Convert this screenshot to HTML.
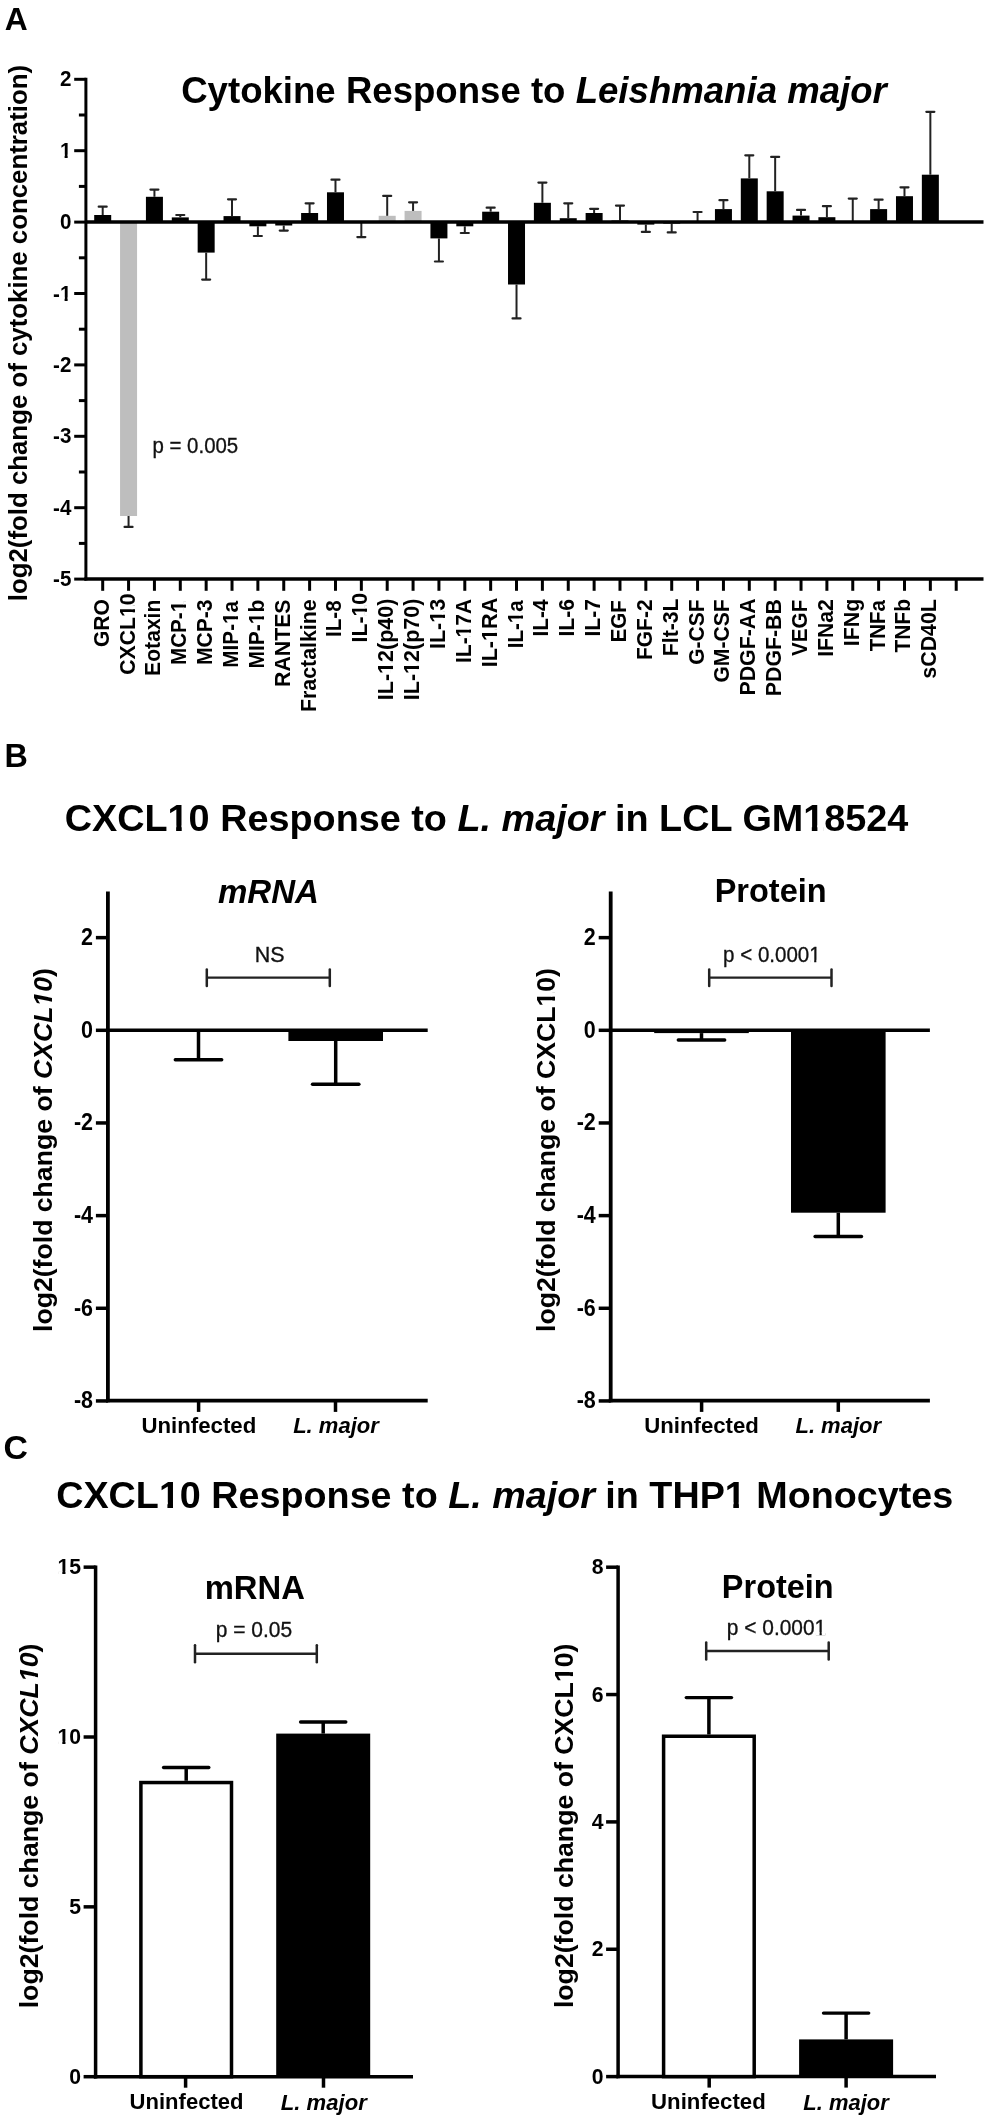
<!DOCTYPE html>
<html><head><meta charset="utf-8"><title>Figure</title>
<style>
html,body{margin:0;padding:0;background:#fff;}
body{width:990px;height:2120px;overflow:hidden;}
svg{display:block;font-family:"Liberation Sans", sans-serif;filter:blur(0.45px);}
</style></head><body>
<svg width="990" height="2120" viewBox="0 0 990 2120">
<rect x="0" y="0" width="990" height="2120" fill="#fff"/>
<text transform="translate(4.66 29.90) scale(0.7944 0.7944)" font-size="40" font-weight="bold" font-style="normal" fill="#000">A</text>
<text transform="translate(4.48 767.10) scale(0.8083 0.8083)" font-size="40" font-weight="bold" font-style="normal" fill="#000">B</text>
<text transform="translate(3.51 1459.10) scale(0.8462 0.8462)" font-size="40" font-weight="bold" font-style="normal" fill="#000">C</text>
<text transform="translate(181.17 102.90) scale(0.9152 0.9152)" font-size="40" font-weight="bold" font-style="normal" fill="#000">Cytokine Response to <tspan font-style="italic">Leishmania major</tspan></text>
<text transform="translate(64.71 830.80) scale(0.9451 0.9451)" font-size="40" font-weight="bold" font-style="normal" fill="#000">CXCL10 Response to <tspan font-style="italic">L. major</tspan> in LCL GM18524</text>
<text transform="translate(56.21 1507.60) scale(0.9430 0.9430)" font-size="40" font-weight="bold" font-style="normal" fill="#000">CXCL10 Response to <tspan font-style="italic">L. major</tspan> in THP1 Monocytes</text>
<text transform="translate(26.60 601.24) rotate(-90) scale(0.6455)" font-size="40" font-weight="bold" font-style="normal" fill="#000">log2(fold change of cytokine concentration)</text>
<text transform="translate(52.40 1332.00) rotate(-90) scale(0.6659)" font-size="40" font-weight="bold" font-style="normal" fill="#000">log2(fold change of <tspan font-style="italic">CXCL10</tspan>)</text>
<text transform="translate(555.20 1332.00) rotate(-90) scale(0.6659)" font-size="40" font-weight="bold" font-style="normal" fill="#000">log2(fold change of CXCL10)</text>
<text transform="translate(38.00 2008.30) rotate(-90) scale(0.6673)" font-size="40" font-weight="bold" font-style="normal" fill="#000">log2(fold change of <tspan font-style="italic">CXCL10</tspan>)</text>
<text transform="translate(573.20 2008.10) rotate(-90) scale(0.6670)" font-size="40" font-weight="bold" font-style="normal" fill="#000">log2(fold change of CXCL10)</text>
<text transform="translate(217.97 902.80) scale(0.8263 0.8263)" font-size="40" font-weight="bold" font-style="italic" fill="#000">mRNA</text>
<text transform="translate(714.66 902.40) scale(0.8129 0.8129)" font-size="40" font-weight="bold" font-style="normal" fill="#000">Protein</text>
<text transform="translate(204.64 1598.50) scale(0.8203 0.8203)" font-size="40" font-weight="bold" font-style="normal" fill="#000">mRNA</text>
<text transform="translate(721.87 1598.20) scale(0.8114 0.8114)" font-size="40" font-weight="bold" font-style="normal" fill="#000">Protein</text>
<text transform="translate(141.49 1433.20) scale(0.5554 0.5554)" font-size="40" font-weight="bold" font-style="normal" fill="#000">Uninfected</text>
<text transform="translate(293.15 1433.40) scale(0.5506 0.5506)" font-size="40" font-weight="bold" font-style="italic" fill="#000">L. major</text>
<text transform="translate(644.29 1432.90) scale(0.5545 0.5545)" font-size="40" font-weight="bold" font-style="normal" fill="#000">Uninfected</text>
<text transform="translate(795.45 1433.40) scale(0.5500 0.5500)" font-size="40" font-weight="bold" font-style="italic" fill="#000">L. major</text>
<text transform="translate(129.60 2109.20) scale(0.5510 0.5510)" font-size="40" font-weight="bold" font-style="normal" fill="#000">Uninfected</text>
<text transform="translate(280.85 2109.80) scale(0.5526 0.5526)" font-size="40" font-weight="bold" font-style="italic" fill="#000">L. major</text>
<text transform="translate(651.09 2109.20) scale(0.5550 0.5550)" font-size="40" font-weight="bold" font-style="normal" fill="#000">Uninfected</text>
<text transform="translate(803.35 2109.60) scale(0.5487 0.5487)" font-size="40" font-weight="bold" font-style="italic" fill="#000">L. major</text>
<text transform="translate(152.47 453.40) scale(0.5110 0.5468)" font-size="40" font-weight="normal" font-style="normal" fill="#111" stroke="#111" stroke-width="0.6">p = 0.005</text>
<text transform="translate(254.69 962.00) scale(0.5373 0.5373)" font-size="40" font-weight="normal" font-style="normal" fill="#111" stroke="#111" stroke-width="0.6">NS</text>
<text transform="translate(723.06 962.20) scale(0.5135 0.5495)" font-size="40" font-weight="normal" font-style="normal" fill="#111" stroke="#111" stroke-width="0.6">p &lt; 0.0001</text>
<text transform="translate(215.73 1636.70) scale(0.5241 0.5608)" font-size="40" font-weight="normal" font-style="normal" fill="#111" stroke="#111" stroke-width="0.6">p = 0.05</text>
<text transform="translate(726.83 1634.60) scale(0.5227 0.5593)" font-size="40" font-weight="normal" font-style="normal" fill="#111" stroke="#111" stroke-width="0.6">p &lt; 0.0001</text>
<line x1="85.90" y1="77.80" x2="85.90" y2="580.60" stroke="#000" stroke-width="3"/>
<line x1="74.20" y1="79.30" x2="85.90" y2="79.30" stroke="#000" stroke-width="3"/>
<line x1="74.20" y1="150.70" x2="85.90" y2="150.70" stroke="#000" stroke-width="3"/>
<line x1="74.20" y1="222.10" x2="85.90" y2="222.10" stroke="#000" stroke-width="3"/>
<line x1="74.20" y1="293.50" x2="85.90" y2="293.50" stroke="#000" stroke-width="3"/>
<line x1="74.20" y1="364.90" x2="85.90" y2="364.90" stroke="#000" stroke-width="3"/>
<line x1="74.20" y1="436.30" x2="85.90" y2="436.30" stroke="#000" stroke-width="3"/>
<line x1="74.20" y1="507.70" x2="85.90" y2="507.70" stroke="#000" stroke-width="3"/>
<line x1="74.20" y1="579.10" x2="85.90" y2="579.10" stroke="#000" stroke-width="3"/>
<line x1="78.90" y1="115.00" x2="85.90" y2="115.00" stroke="#000" stroke-width="3"/>
<line x1="78.90" y1="186.40" x2="85.90" y2="186.40" stroke="#000" stroke-width="3"/>
<line x1="78.90" y1="257.80" x2="85.90" y2="257.80" stroke="#000" stroke-width="3"/>
<line x1="78.90" y1="329.20" x2="85.90" y2="329.20" stroke="#000" stroke-width="3"/>
<line x1="78.90" y1="400.60" x2="85.90" y2="400.60" stroke="#000" stroke-width="3"/>
<line x1="78.90" y1="472.00" x2="85.90" y2="472.00" stroke="#000" stroke-width="3"/>
<line x1="78.90" y1="543.40" x2="85.90" y2="543.40" stroke="#000" stroke-width="3"/>
<text transform="translate(71.40 86.39) scale(1 1.08)" font-size="20.6" font-weight="bold" text-anchor="end">2</text>
<text transform="translate(71.40 157.79) scale(1 1.08)" font-size="20.6" font-weight="bold" text-anchor="end">1</text>
<text transform="translate(71.40 229.19) scale(1 1.08)" font-size="20.6" font-weight="bold" text-anchor="end">0</text>
<text transform="translate(71.40 300.59) scale(1 1.08)" font-size="20.6" font-weight="bold" text-anchor="end">-1</text>
<text transform="translate(71.40 371.99) scale(1 1.08)" font-size="20.6" font-weight="bold" text-anchor="end">-2</text>
<text transform="translate(71.40 443.39) scale(1 1.08)" font-size="20.6" font-weight="bold" text-anchor="end">-3</text>
<text transform="translate(71.40 514.79) scale(1 1.08)" font-size="20.6" font-weight="bold" text-anchor="end">-4</text>
<text transform="translate(71.40 586.19) scale(1 1.08)" font-size="20.6" font-weight="bold" text-anchor="end">-5</text>
<line x1="84.40" y1="579.10" x2="983.50" y2="579.10" stroke="#000" stroke-width="3.5"/>
<line x1="102.70" y1="579.10" x2="102.70" y2="590.80" stroke="#000" stroke-width="3"/>
<line x1="128.56" y1="579.10" x2="128.56" y2="590.80" stroke="#000" stroke-width="3"/>
<line x1="154.43" y1="579.10" x2="154.43" y2="590.80" stroke="#000" stroke-width="3"/>
<line x1="180.29" y1="579.10" x2="180.29" y2="590.80" stroke="#000" stroke-width="3"/>
<line x1="206.16" y1="579.10" x2="206.16" y2="590.80" stroke="#000" stroke-width="3"/>
<line x1="232.02" y1="579.10" x2="232.02" y2="590.80" stroke="#000" stroke-width="3"/>
<line x1="257.88" y1="579.10" x2="257.88" y2="590.80" stroke="#000" stroke-width="3"/>
<line x1="283.75" y1="579.10" x2="283.75" y2="590.80" stroke="#000" stroke-width="3"/>
<line x1="309.61" y1="579.10" x2="309.61" y2="590.80" stroke="#000" stroke-width="3"/>
<line x1="335.48" y1="579.10" x2="335.48" y2="590.80" stroke="#000" stroke-width="3"/>
<line x1="361.34" y1="579.10" x2="361.34" y2="590.80" stroke="#000" stroke-width="3"/>
<line x1="387.20" y1="579.10" x2="387.20" y2="590.80" stroke="#000" stroke-width="3"/>
<line x1="413.07" y1="579.10" x2="413.07" y2="590.80" stroke="#000" stroke-width="3"/>
<line x1="438.93" y1="579.10" x2="438.93" y2="590.80" stroke="#000" stroke-width="3"/>
<line x1="464.80" y1="579.10" x2="464.80" y2="590.80" stroke="#000" stroke-width="3"/>
<line x1="490.66" y1="579.10" x2="490.66" y2="590.80" stroke="#000" stroke-width="3"/>
<line x1="516.52" y1="579.10" x2="516.52" y2="590.80" stroke="#000" stroke-width="3"/>
<line x1="542.39" y1="579.10" x2="542.39" y2="590.80" stroke="#000" stroke-width="3"/>
<line x1="568.25" y1="579.10" x2="568.25" y2="590.80" stroke="#000" stroke-width="3"/>
<line x1="594.12" y1="579.10" x2="594.12" y2="590.80" stroke="#000" stroke-width="3"/>
<line x1="619.98" y1="579.10" x2="619.98" y2="590.80" stroke="#000" stroke-width="3"/>
<line x1="645.84" y1="579.10" x2="645.84" y2="590.80" stroke="#000" stroke-width="3"/>
<line x1="671.71" y1="579.10" x2="671.71" y2="590.80" stroke="#000" stroke-width="3"/>
<line x1="697.57" y1="579.10" x2="697.57" y2="590.80" stroke="#000" stroke-width="3"/>
<line x1="723.44" y1="579.10" x2="723.44" y2="590.80" stroke="#000" stroke-width="3"/>
<line x1="749.30" y1="579.10" x2="749.30" y2="590.80" stroke="#000" stroke-width="3"/>
<line x1="775.16" y1="579.10" x2="775.16" y2="590.80" stroke="#000" stroke-width="3"/>
<line x1="801.03" y1="579.10" x2="801.03" y2="590.80" stroke="#000" stroke-width="3"/>
<line x1="826.89" y1="579.10" x2="826.89" y2="590.80" stroke="#000" stroke-width="3"/>
<line x1="852.76" y1="579.10" x2="852.76" y2="590.80" stroke="#000" stroke-width="3"/>
<line x1="878.62" y1="579.10" x2="878.62" y2="590.80" stroke="#000" stroke-width="3"/>
<line x1="904.48" y1="579.10" x2="904.48" y2="590.80" stroke="#000" stroke-width="3"/>
<line x1="930.35" y1="579.10" x2="930.35" y2="590.80" stroke="#000" stroke-width="3"/>
<line x1="956.21" y1="579.10" x2="956.21" y2="590.80" stroke="#000" stroke-width="3"/>
<text transform="translate(108.70 647.05) rotate(-90) scale(0.5273 0.5325)" font-size="40" font-weight="bold">GRO</text>
<text transform="translate(134.56 674.66) rotate(-90) scale(0.5287 0.5325)" font-size="40" font-weight="bold">CXCL10</text>
<text transform="translate(160.43 675.88) rotate(-90) scale(0.5281 0.5325)" font-size="40" font-weight="bold">Eotaxin</text>
<text transform="translate(186.29 665.05) rotate(-90) scale(0.5167 0.5325)" font-size="40" font-weight="bold">MCP-1</text>
<text transform="translate(212.16 665.08) rotate(-90) scale(0.5275 0.5325)" font-size="40" font-weight="bold">MCP-3</text>
<text transform="translate(238.02 667.65) rotate(-90) scale(0.5175 0.5325)" font-size="40" font-weight="bold">MIP-1a</text>
<text transform="translate(263.88 668.58) rotate(-90) scale(0.5260 0.5325)" font-size="40" font-weight="bold">MIP-1b</text>
<text transform="translate(289.75 687.00) rotate(-90) scale(0.5325 0.5325)" font-size="40" font-weight="bold">RANTES</text>
<text transform="translate(315.61 712.00) rotate(-90) scale(0.5338 0.5325)" font-size="40" font-weight="bold">Fractalkine</text>
<text transform="translate(341.48 637.05) rotate(-90) scale(0.5164 0.5325)" font-size="40" font-weight="bold">IL-8</text>
<text transform="translate(367.34 642.39) rotate(-90) scale(0.5292 0.5325)" font-size="40" font-weight="bold">IL-10</text>
<text transform="translate(393.20 700.21) rotate(-90) scale(0.5380 0.5325)" font-size="40" font-weight="bold">IL-12(p40)</text>
<text transform="translate(419.07 700.21) rotate(-90) scale(0.5380 0.5325)" font-size="40" font-weight="bold">IL-12(p70)</text>
<text transform="translate(444.93 649.01) rotate(-90) scale(0.5371 0.5325)" font-size="40" font-weight="bold">IL-13</text>
<text transform="translate(470.80 662.97) rotate(-90) scale(0.5237 0.5325)" font-size="40" font-weight="bold">IL-17A</text>
<text transform="translate(496.66 667.32) rotate(-90) scale(0.5400 0.5325)" font-size="40" font-weight="bold">IL-1RA</text>
<text transform="translate(522.52 648.23) rotate(-90) scale(0.5125 0.5325)" font-size="40" font-weight="bold">IL-1a</text>
<text transform="translate(548.39 636.46) rotate(-90) scale(0.5191 0.5325)" font-size="40" font-weight="bold">IL-4</text>
<text transform="translate(574.25 636.48) rotate(-90) scale(0.5269 0.5325)" font-size="40" font-weight="bold">IL-6</text>
<text transform="translate(600.12 636.48) rotate(-90) scale(0.5258 0.5325)" font-size="40" font-weight="bold">IL-7</text>
<text transform="translate(625.98 642.33) rotate(-90) scale(0.5125 0.5325)" font-size="40" font-weight="bold">EGF</text>
<text transform="translate(651.84 660.08) rotate(-90) scale(0.5252 0.5325)" font-size="40" font-weight="bold">FGF-2</text>
<text transform="translate(677.71 656.19) rotate(-90) scale(0.5305 0.5325)" font-size="40" font-weight="bold">Flt-3L</text>
<text transform="translate(703.57 664.85) rotate(-90) scale(0.5256 0.5325)" font-size="40" font-weight="bold">G-CSF</text>
<text transform="translate(729.44 682.56) rotate(-90) scale(0.5279 0.5325)" font-size="40" font-weight="bold">GM-CSF</text>
<text transform="translate(755.30 695.60) rotate(-90) scale(0.5343 0.5325)" font-size="40" font-weight="bold">PDGF-AA</text>
<text transform="translate(781.16 696.20) rotate(-90) scale(0.5333 0.5325)" font-size="40" font-weight="bold">PDGF-BB</text>
<text transform="translate(807.03 655.90) rotate(-90) scale(0.5157 0.5325)" font-size="40" font-weight="bold">VEGF</text>
<text transform="translate(832.89 656.79) rotate(-90) scale(0.5288 0.5325)" font-size="40" font-weight="bold">IFNa2</text>
<text transform="translate(858.76 646.31) rotate(-90) scale(0.5361 0.5325)" font-size="40" font-weight="bold">IFNg</text>
<text transform="translate(884.62 651.30) rotate(-90) scale(0.5125 0.5325)" font-size="40" font-weight="bold">TNFa</text>
<text transform="translate(910.48 652.60) rotate(-90) scale(0.5248 0.5325)" font-size="40" font-weight="bold">TNFb</text>
<text transform="translate(936.35 678.67) rotate(-90) scale(0.5342 0.5325)" font-size="40" font-weight="bold">sCD40L</text>
<rect x="94.20" y="215.00" width="17.00" height="7.10" fill="#000"/>
<line x1="102.70" y1="206.70" x2="102.70" y2="215.00" stroke="#222" stroke-width="2"/>
<line x1="98.70" y1="206.70" x2="106.70" y2="206.70" stroke="#222" stroke-width="2.2" stroke-linecap="round"/>
<rect x="120.06" y="222.10" width="17.00" height="293.90" fill="#bebebe"/>
<line x1="128.56" y1="516.00" x2="128.56" y2="526.90" stroke="#222" stroke-width="2"/>
<line x1="124.56" y1="526.90" x2="132.56" y2="526.90" stroke="#222" stroke-width="2.2" stroke-linecap="round"/>
<rect x="145.93" y="196.80" width="17.00" height="25.30" fill="#000"/>
<line x1="154.43" y1="189.60" x2="154.43" y2="196.80" stroke="#222" stroke-width="2"/>
<line x1="150.43" y1="189.60" x2="158.43" y2="189.60" stroke="#222" stroke-width="2.2" stroke-linecap="round"/>
<rect x="171.79" y="217.40" width="17.00" height="4.70" fill="#000"/>
<line x1="180.29" y1="215.00" x2="180.29" y2="217.40" stroke="#222" stroke-width="2"/>
<line x1="176.29" y1="215.00" x2="184.29" y2="215.00" stroke="#222" stroke-width="2.2" stroke-linecap="round"/>
<rect x="197.66" y="222.10" width="17.00" height="30.50" fill="#000"/>
<line x1="206.16" y1="252.60" x2="206.16" y2="279.60" stroke="#222" stroke-width="2"/>
<line x1="202.16" y1="279.60" x2="210.16" y2="279.60" stroke="#222" stroke-width="2.2" stroke-linecap="round"/>
<rect x="223.52" y="216.10" width="17.00" height="6.00" fill="#000"/>
<line x1="232.02" y1="199.30" x2="232.02" y2="216.10" stroke="#222" stroke-width="2"/>
<line x1="228.02" y1="199.30" x2="236.02" y2="199.30" stroke="#222" stroke-width="2.2" stroke-linecap="round"/>
<rect x="249.38" y="222.10" width="17.00" height="4.20" fill="#000"/>
<line x1="257.88" y1="226.30" x2="257.88" y2="236.00" stroke="#222" stroke-width="2"/>
<line x1="253.88" y1="236.00" x2="261.88" y2="236.00" stroke="#222" stroke-width="2.2" stroke-linecap="round"/>
<rect x="275.25" y="222.10" width="17.00" height="3.40" fill="#000"/>
<line x1="283.75" y1="225.50" x2="283.75" y2="230.60" stroke="#222" stroke-width="2"/>
<line x1="279.75" y1="230.60" x2="287.75" y2="230.60" stroke="#222" stroke-width="2.2" stroke-linecap="round"/>
<rect x="301.11" y="213.00" width="17.00" height="9.10" fill="#000"/>
<line x1="309.61" y1="203.30" x2="309.61" y2="213.00" stroke="#222" stroke-width="2"/>
<line x1="305.61" y1="203.30" x2="313.61" y2="203.30" stroke="#222" stroke-width="2.2" stroke-linecap="round"/>
<rect x="326.98" y="192.30" width="17.00" height="29.80" fill="#000"/>
<line x1="335.48" y1="179.70" x2="335.48" y2="192.30" stroke="#222" stroke-width="2"/>
<line x1="331.48" y1="179.70" x2="339.48" y2="179.70" stroke="#222" stroke-width="2.2" stroke-linecap="round"/>
<rect x="352.84" y="222.10" width="17.00" height="0.90" fill="#000"/>
<line x1="361.34" y1="223.00" x2="361.34" y2="237.10" stroke="#222" stroke-width="2"/>
<line x1="357.34" y1="237.10" x2="365.34" y2="237.10" stroke="#222" stroke-width="2.2" stroke-linecap="round"/>
<rect x="378.70" y="215.80" width="17.00" height="6.30" fill="#bebebe"/>
<line x1="387.20" y1="195.90" x2="387.20" y2="215.80" stroke="#222" stroke-width="2"/>
<line x1="383.20" y1="195.90" x2="391.20" y2="195.90" stroke="#222" stroke-width="2.2" stroke-linecap="round"/>
<rect x="404.57" y="210.90" width="17.00" height="11.20" fill="#bebebe"/>
<line x1="413.07" y1="202.30" x2="413.07" y2="210.90" stroke="#222" stroke-width="2"/>
<line x1="409.07" y1="202.30" x2="417.07" y2="202.30" stroke="#222" stroke-width="2.2" stroke-linecap="round"/>
<rect x="430.43" y="222.10" width="17.00" height="16.30" fill="#000"/>
<line x1="438.93" y1="238.40" x2="438.93" y2="261.50" stroke="#222" stroke-width="2"/>
<line x1="434.93" y1="261.50" x2="442.93" y2="261.50" stroke="#222" stroke-width="2.2" stroke-linecap="round"/>
<rect x="456.30" y="222.10" width="17.00" height="4.20" fill="#000"/>
<line x1="464.80" y1="226.30" x2="464.80" y2="233.00" stroke="#222" stroke-width="2"/>
<line x1="460.80" y1="233.00" x2="468.80" y2="233.00" stroke="#222" stroke-width="2.2" stroke-linecap="round"/>
<rect x="482.16" y="211.70" width="17.00" height="10.40" fill="#000"/>
<line x1="490.66" y1="207.70" x2="490.66" y2="211.70" stroke="#222" stroke-width="2"/>
<line x1="486.66" y1="207.70" x2="494.66" y2="207.70" stroke="#222" stroke-width="2.2" stroke-linecap="round"/>
<rect x="508.02" y="222.10" width="17.00" height="62.40" fill="#000"/>
<line x1="516.52" y1="284.50" x2="516.52" y2="318.40" stroke="#222" stroke-width="2"/>
<line x1="512.52" y1="318.40" x2="520.52" y2="318.40" stroke="#222" stroke-width="2.2" stroke-linecap="round"/>
<rect x="533.89" y="202.80" width="17.00" height="19.30" fill="#000"/>
<line x1="542.39" y1="182.60" x2="542.39" y2="202.80" stroke="#222" stroke-width="2"/>
<line x1="538.39" y1="182.60" x2="546.39" y2="182.60" stroke="#222" stroke-width="2.2" stroke-linecap="round"/>
<rect x="559.75" y="218.20" width="17.00" height="3.90" fill="#000"/>
<line x1="568.25" y1="203.30" x2="568.25" y2="218.20" stroke="#222" stroke-width="2"/>
<line x1="564.25" y1="203.30" x2="572.25" y2="203.30" stroke="#222" stroke-width="2.2" stroke-linecap="round"/>
<rect x="585.62" y="213.00" width="17.00" height="9.10" fill="#000"/>
<line x1="594.12" y1="208.80" x2="594.12" y2="213.00" stroke="#222" stroke-width="2"/>
<line x1="590.12" y1="208.80" x2="598.12" y2="208.80" stroke="#222" stroke-width="2.2" stroke-linecap="round"/>
<rect x="611.48" y="220.50" width="17.00" height="1.60" fill="#000"/>
<line x1="619.98" y1="205.60" x2="619.98" y2="220.50" stroke="#222" stroke-width="2"/>
<line x1="615.98" y1="205.60" x2="623.98" y2="205.60" stroke="#222" stroke-width="2.2" stroke-linecap="round"/>
<rect x="637.34" y="222.10" width="17.00" height="2.50" fill="#000"/>
<line x1="645.84" y1="224.60" x2="645.84" y2="231.90" stroke="#222" stroke-width="2"/>
<line x1="641.84" y1="231.90" x2="649.84" y2="231.90" stroke="#222" stroke-width="2.2" stroke-linecap="round"/>
<rect x="663.21" y="222.10" width="17.00" height="1.50" fill="#000"/>
<line x1="671.71" y1="223.60" x2="671.71" y2="232.40" stroke="#222" stroke-width="2"/>
<line x1="667.71" y1="232.40" x2="675.71" y2="232.40" stroke="#222" stroke-width="2.2" stroke-linecap="round"/>
<rect x="689.07" y="221.00" width="17.00" height="1.10" fill="#000"/>
<line x1="697.57" y1="212.00" x2="697.57" y2="221.00" stroke="#222" stroke-width="2"/>
<line x1="693.57" y1="212.00" x2="701.57" y2="212.00" stroke="#222" stroke-width="2.2" stroke-linecap="round"/>
<rect x="714.94" y="209.10" width="17.00" height="13.00" fill="#000"/>
<line x1="723.44" y1="200.20" x2="723.44" y2="209.10" stroke="#222" stroke-width="2"/>
<line x1="719.44" y1="200.20" x2="727.44" y2="200.20" stroke="#222" stroke-width="2.2" stroke-linecap="round"/>
<rect x="740.80" y="178.40" width="17.00" height="43.70" fill="#000"/>
<line x1="749.30" y1="155.30" x2="749.30" y2="178.40" stroke="#222" stroke-width="2"/>
<line x1="745.30" y1="155.30" x2="753.30" y2="155.30" stroke="#222" stroke-width="2.2" stroke-linecap="round"/>
<rect x="766.66" y="191.30" width="17.00" height="30.80" fill="#000"/>
<line x1="775.16" y1="156.90" x2="775.16" y2="191.30" stroke="#222" stroke-width="2"/>
<line x1="771.16" y1="156.90" x2="779.16" y2="156.90" stroke="#222" stroke-width="2.2" stroke-linecap="round"/>
<rect x="792.53" y="215.60" width="17.00" height="6.50" fill="#000"/>
<line x1="801.03" y1="209.90" x2="801.03" y2="215.60" stroke="#222" stroke-width="2"/>
<line x1="797.03" y1="209.90" x2="805.03" y2="209.90" stroke="#222" stroke-width="2.2" stroke-linecap="round"/>
<rect x="818.39" y="217.20" width="17.00" height="4.90" fill="#000"/>
<line x1="826.89" y1="206.20" x2="826.89" y2="217.20" stroke="#222" stroke-width="2"/>
<line x1="822.89" y1="206.20" x2="830.89" y2="206.20" stroke="#222" stroke-width="2.2" stroke-linecap="round"/>
<rect x="844.26" y="221.00" width="17.00" height="1.10" fill="#000"/>
<line x1="852.76" y1="198.60" x2="852.76" y2="221.00" stroke="#222" stroke-width="2"/>
<line x1="848.76" y1="198.60" x2="856.76" y2="198.60" stroke="#222" stroke-width="2.2" stroke-linecap="round"/>
<rect x="870.12" y="209.10" width="17.00" height="13.00" fill="#000"/>
<line x1="878.62" y1="199.70" x2="878.62" y2="209.10" stroke="#222" stroke-width="2"/>
<line x1="874.62" y1="199.70" x2="882.62" y2="199.70" stroke="#222" stroke-width="2.2" stroke-linecap="round"/>
<rect x="895.98" y="196.20" width="17.00" height="25.90" fill="#000"/>
<line x1="904.48" y1="187.30" x2="904.48" y2="196.20" stroke="#222" stroke-width="2"/>
<line x1="900.48" y1="187.30" x2="908.48" y2="187.30" stroke="#222" stroke-width="2.2" stroke-linecap="round"/>
<rect x="921.85" y="174.70" width="17.00" height="47.40" fill="#000"/>
<line x1="930.35" y1="111.80" x2="930.35" y2="174.70" stroke="#222" stroke-width="2"/>
<line x1="926.35" y1="111.80" x2="934.35" y2="111.80" stroke="#222" stroke-width="2.2" stroke-linecap="round"/>
<line x1="85.90" y1="222.10" x2="983.50" y2="222.10" stroke="#000" stroke-width="3.5"/>
<line x1="107.90" y1="891.50" x2="107.90" y2="1402.30" stroke="#000" stroke-width="3.8"/>
<line x1="95.90" y1="937.64" x2="107.90" y2="937.64" stroke="#000" stroke-width="3.5"/>
<text transform="translate(93.00 945.07) scale(1 1.08)" font-size="21.5" font-weight="bold" text-anchor="end">2</text>
<line x1="95.90" y1="1030.30" x2="107.90" y2="1030.30" stroke="#000" stroke-width="3.5"/>
<text transform="translate(93.00 1037.73) scale(1 1.08)" font-size="21.5" font-weight="bold" text-anchor="end">0</text>
<line x1="95.90" y1="1122.96" x2="107.90" y2="1122.96" stroke="#000" stroke-width="3.5"/>
<text transform="translate(93.00 1130.39) scale(1 1.08)" font-size="21.5" font-weight="bold" text-anchor="end">-2</text>
<line x1="95.90" y1="1215.62" x2="107.90" y2="1215.62" stroke="#000" stroke-width="3.5"/>
<text transform="translate(93.00 1223.05) scale(1 1.08)" font-size="21.5" font-weight="bold" text-anchor="end">-4</text>
<line x1="95.90" y1="1308.28" x2="107.90" y2="1308.28" stroke="#000" stroke-width="3.5"/>
<text transform="translate(93.00 1315.71) scale(1 1.08)" font-size="21.5" font-weight="bold" text-anchor="end">-6</text>
<line x1="95.90" y1="1400.94" x2="107.90" y2="1400.94" stroke="#000" stroke-width="3.5"/>
<text transform="translate(93.00 1408.37) scale(1 1.08)" font-size="21.5" font-weight="bold" text-anchor="end">-8</text>
<line x1="106.00" y1="1400.60" x2="427.70" y2="1400.60" stroke="#000" stroke-width="3.6"/>
<line x1="198.60" y1="1400.60" x2="198.60" y2="1411.90" stroke="#000" stroke-width="3.5"/>
<line x1="335.50" y1="1400.60" x2="335.50" y2="1411.90" stroke="#000" stroke-width="3.5"/>
<line x1="198.50" y1="1030.10" x2="198.50" y2="1059.80" stroke="#000" stroke-width="3.5"/>
<line x1="175.30" y1="1059.80" x2="221.70" y2="1059.80" stroke="#000" stroke-width="3.4" stroke-linecap="round"/>
<rect x="288.40" y="1030.30" width="94.60" height="10.70" fill="#000"/>
<line x1="335.70" y1="1041.00" x2="335.70" y2="1084.30" stroke="#000" stroke-width="3.5"/>
<line x1="312.50" y1="1084.30" x2="358.90" y2="1084.30" stroke="#000" stroke-width="3.4" stroke-linecap="round"/>
<line x1="107.90" y1="1030.30" x2="427.70" y2="1030.30" stroke="#000" stroke-width="3.5"/>
<line x1="206.80" y1="977.70" x2="329.80" y2="977.70" stroke="#222" stroke-width="2.2"/>
<line x1="206.80" y1="969.40" x2="206.80" y2="986.10" stroke="#222" stroke-width="2.5" stroke-linecap="round"/>
<line x1="329.80" y1="969.40" x2="329.80" y2="986.10" stroke="#222" stroke-width="2.5" stroke-linecap="round"/>
<line x1="610.70" y1="891.50" x2="610.70" y2="1402.30" stroke="#000" stroke-width="3.8"/>
<line x1="598.70" y1="937.64" x2="610.70" y2="937.64" stroke="#000" stroke-width="3.5"/>
<text transform="translate(595.80 945.07) scale(1 1.08)" font-size="21.5" font-weight="bold" text-anchor="end">2</text>
<line x1="598.70" y1="1030.30" x2="610.70" y2="1030.30" stroke="#000" stroke-width="3.5"/>
<text transform="translate(595.80 1037.73) scale(1 1.08)" font-size="21.5" font-weight="bold" text-anchor="end">0</text>
<line x1="598.70" y1="1122.96" x2="610.70" y2="1122.96" stroke="#000" stroke-width="3.5"/>
<text transform="translate(595.80 1130.39) scale(1 1.08)" font-size="21.5" font-weight="bold" text-anchor="end">-2</text>
<line x1="598.70" y1="1215.62" x2="610.70" y2="1215.62" stroke="#000" stroke-width="3.5"/>
<text transform="translate(595.80 1223.05) scale(1 1.08)" font-size="21.5" font-weight="bold" text-anchor="end">-4</text>
<line x1="598.70" y1="1308.28" x2="610.70" y2="1308.28" stroke="#000" stroke-width="3.5"/>
<text transform="translate(595.80 1315.71) scale(1 1.08)" font-size="21.5" font-weight="bold" text-anchor="end">-6</text>
<line x1="598.70" y1="1400.94" x2="610.70" y2="1400.94" stroke="#000" stroke-width="3.5"/>
<text transform="translate(595.80 1408.37) scale(1 1.08)" font-size="21.5" font-weight="bold" text-anchor="end">-8</text>
<line x1="608.80" y1="1400.60" x2="929.90" y2="1400.60" stroke="#000" stroke-width="3.6"/>
<line x1="701.60" y1="1400.60" x2="701.60" y2="1411.90" stroke="#000" stroke-width="3.5"/>
<line x1="838.30" y1="1400.60" x2="838.30" y2="1411.90" stroke="#000" stroke-width="3.5"/>
<rect x="654.20" y="1030.30" width="94.60" height="2.80" fill="#000"/>
<line x1="701.50" y1="1033.10" x2="701.50" y2="1040.00" stroke="#000" stroke-width="3.5"/>
<line x1="678.30" y1="1040.00" x2="724.70" y2="1040.00" stroke="#000" stroke-width="3.4" stroke-linecap="round"/>
<rect x="791.00" y="1030.30" width="94.60" height="182.40" fill="#000"/>
<line x1="838.30" y1="1212.70" x2="838.30" y2="1236.50" stroke="#000" stroke-width="3.5"/>
<line x1="815.10" y1="1236.50" x2="861.50" y2="1236.50" stroke="#000" stroke-width="3.4" stroke-linecap="round"/>
<line x1="610.70" y1="1030.30" x2="929.90" y2="1030.30" stroke="#000" stroke-width="3.5"/>
<line x1="709.20" y1="977.70" x2="831.50" y2="977.70" stroke="#222" stroke-width="2.2"/>
<line x1="709.20" y1="969.40" x2="709.20" y2="986.10" stroke="#222" stroke-width="2.5" stroke-linecap="round"/>
<line x1="831.50" y1="969.40" x2="831.50" y2="986.10" stroke="#222" stroke-width="2.5" stroke-linecap="round"/>
<line x1="95.60" y1="1565.40" x2="95.60" y2="2078.40" stroke="#000" stroke-width="3.5"/>
<line x1="83.60" y1="1567.15" x2="95.60" y2="1567.15" stroke="#000" stroke-width="3.5"/>
<text transform="translate(81.10 1574.39) scale(1 1.07)" font-size="21.2" font-weight="bold" text-anchor="end">15</text>
<line x1="83.60" y1="1737.00" x2="95.60" y2="1737.00" stroke="#000" stroke-width="3.5"/>
<text transform="translate(81.10 1744.24) scale(1 1.07)" font-size="21.2" font-weight="bold" text-anchor="end">10</text>
<line x1="83.60" y1="1906.85" x2="95.60" y2="1906.85" stroke="#000" stroke-width="3.5"/>
<text transform="translate(81.10 1914.09) scale(1 1.07)" font-size="21.2" font-weight="bold" text-anchor="end">5</text>
<line x1="83.60" y1="2076.70" x2="95.60" y2="2076.70" stroke="#000" stroke-width="3.5"/>
<text transform="translate(81.10 2083.94) scale(1 1.07)" font-size="21.2" font-weight="bold" text-anchor="end">0</text>
<line x1="93.90" y1="2076.70" x2="413.00" y2="2076.70" stroke="#000" stroke-width="3.5"/>
<line x1="185.60" y1="2076.70" x2="185.60" y2="2087.70" stroke="#000" stroke-width="3.5"/>
<line x1="323.50" y1="2076.70" x2="323.50" y2="2087.70" stroke="#000" stroke-width="3.5"/>
<rect x="140.90" y="1782.55" width="90.60" height="294.15" fill="#fff" stroke="#000" stroke-width="3.5"/>
<line x1="186.20" y1="1780.80" x2="186.20" y2="1767.50" stroke="#000" stroke-width="3.5"/>
<line x1="163.60" y1="1767.50" x2="208.80" y2="1767.50" stroke="#000" stroke-width="3.4" stroke-linecap="round"/>
<rect x="276.20" y="1733.60" width="94.00" height="343.10" fill="#000"/>
<line x1="323.20" y1="1733.60" x2="323.20" y2="1722.00" stroke="#000" stroke-width="3.5"/>
<line x1="300.60" y1="1722.00" x2="345.80" y2="1722.00" stroke="#000" stroke-width="3.4" stroke-linecap="round"/>
<line x1="195.00" y1="1653.80" x2="316.80" y2="1653.80" stroke="#222" stroke-width="2.4"/>
<line x1="195.00" y1="1645.30" x2="195.00" y2="1662.30" stroke="#222" stroke-width="2.5" stroke-linecap="round"/>
<line x1="316.80" y1="1645.30" x2="316.80" y2="1662.30" stroke="#222" stroke-width="2.5" stroke-linecap="round"/>
<line x1="618.10" y1="1565.50" x2="618.10" y2="2078.30" stroke="#000" stroke-width="3.5"/>
<line x1="606.10" y1="1567.20" x2="618.10" y2="1567.20" stroke="#000" stroke-width="3.5"/>
<text transform="translate(603.60 1574.44) scale(1 1.07)" font-size="21.2" font-weight="bold" text-anchor="end">8</text>
<line x1="606.10" y1="1694.55" x2="618.10" y2="1694.55" stroke="#000" stroke-width="3.5"/>
<text transform="translate(603.60 1701.79) scale(1 1.07)" font-size="21.2" font-weight="bold" text-anchor="end">6</text>
<line x1="606.10" y1="1821.90" x2="618.10" y2="1821.90" stroke="#000" stroke-width="3.5"/>
<text transform="translate(603.60 1829.14) scale(1 1.07)" font-size="21.2" font-weight="bold" text-anchor="end">4</text>
<line x1="606.10" y1="1949.25" x2="618.10" y2="1949.25" stroke="#000" stroke-width="3.5"/>
<text transform="translate(603.60 1956.49) scale(1 1.07)" font-size="21.2" font-weight="bold" text-anchor="end">2</text>
<line x1="606.10" y1="2076.60" x2="618.10" y2="2076.60" stroke="#000" stroke-width="3.5"/>
<text transform="translate(603.60 2083.84) scale(1 1.07)" font-size="21.2" font-weight="bold" text-anchor="end">0</text>
<line x1="616.40" y1="2076.60" x2="936.00" y2="2076.60" stroke="#000" stroke-width="3.5"/>
<line x1="709.20" y1="2076.60" x2="709.20" y2="2087.60" stroke="#000" stroke-width="3.5"/>
<line x1="846.10" y1="2076.60" x2="846.10" y2="2087.60" stroke="#000" stroke-width="3.5"/>
<rect x="663.60" y="1736.25" width="90.60" height="340.35" fill="#fff" stroke="#000" stroke-width="3.5"/>
<line x1="708.90" y1="1734.50" x2="708.90" y2="1697.60" stroke="#000" stroke-width="3.5"/>
<line x1="686.30" y1="1697.60" x2="731.50" y2="1697.60" stroke="#000" stroke-width="3.4" stroke-linecap="round"/>
<rect x="799.10" y="2039.40" width="94.00" height="37.20" fill="#000"/>
<line x1="846.10" y1="2039.40" x2="846.10" y2="2013.10" stroke="#000" stroke-width="3.5"/>
<line x1="823.50" y1="2013.10" x2="868.70" y2="2013.10" stroke="#000" stroke-width="3.4" stroke-linecap="round"/>
<line x1="706.20" y1="1651.00" x2="828.70" y2="1651.00" stroke="#222" stroke-width="2.4"/>
<line x1="706.20" y1="1642.50" x2="706.20" y2="1659.50" stroke="#222" stroke-width="2.5" stroke-linecap="round"/>
<line x1="828.70" y1="1642.50" x2="828.70" y2="1659.50" stroke="#222" stroke-width="2.5" stroke-linecap="round"/>
<g transform="translate(64.71 830.80) scale(0.9451 0.9451)"><rect x="110.25" y="-5.80" width="7.64" height="7.40" fill="#fff"/><rect x="123.81" y="-5.80" width="6.64" height="7.40" fill="#fff"/></g>
<g transform="translate(64.71 830.80) scale(0.9451 0.9451)"><rect x="782.86" y="-5.80" width="7.64" height="7.40" fill="#fff"/><rect x="796.42" y="-5.80" width="6.64" height="7.40" fill="#fff"/></g>
<g transform="translate(56.21 1507.60) scale(0.9430 0.9430)"><rect x="110.28" y="-5.80" width="7.64" height="7.40" fill="#fff"/><rect x="123.84" y="-5.80" width="6.64" height="7.40" fill="#fff"/></g>
<g transform="translate(56.21 1507.60) scale(0.9430 0.9430)"><rect x="710.39" y="-5.80" width="7.64" height="7.40" fill="#fff"/><rect x="723.95" y="-5.80" width="6.64" height="7.40" fill="#fff"/></g>
<g transform="translate(52.40 1332.00) rotate(-90) scale(0.6659)"><polygon points="488.03,1.20 495.59,1.20 496.99,-5.80 489.43,-5.80" fill="#fff"/><polygon points="501.27,1.20 508.83,1.20 510.23,-5.80 502.67,-5.80" fill="#fff"/></g>
<g transform="translate(555.20 1332.00) rotate(-90) scale(0.6659)"><rect x="490.05" y="-5.80" width="7.64" height="7.40" fill="#fff"/><rect x="503.61" y="-5.80" width="6.64" height="7.40" fill="#fff"/></g>
<g transform="translate(38.00 2008.30) rotate(-90) scale(0.6673)"><polygon points="488.15,1.20 495.71,1.20 497.11,-5.80 489.55,-5.80" fill="#fff"/><polygon points="501.39,1.20 508.95,1.20 510.35,-5.80 502.79,-5.80" fill="#fff"/></g>
<g transform="translate(573.20 2008.10) rotate(-90) scale(0.6670)"><rect x="490.11" y="-5.80" width="7.64" height="7.40" fill="#fff"/><rect x="503.67" y="-5.80" width="6.64" height="7.40" fill="#fff"/></g>
<g transform="translate(723.06 962.20) scale(0.5135 0.5495)"><rect x="169.65" y="-4.20" width="7.80" height="5.80" fill="#fff"/><rect x="181.65" y="-4.20" width="7.40" height="5.80" fill="#fff"/></g>
<g transform="translate(726.83 1634.60) scale(0.5227 0.5593)"><rect x="169.62" y="-4.20" width="7.80" height="5.80" fill="#fff"/><rect x="181.62" y="-4.20" width="7.40" height="5.80" fill="#fff"/></g>
<g transform="translate(71.40 157.79) scale(1 1.08)"><rect x="-10.73" y="-2.99" width="3.93" height="3.81" fill="#fff"/><rect x="-3.75" y="-2.99" width="3.42" height="3.81" fill="#fff"/></g>
<g transform="translate(71.40 300.59) scale(1 1.08)"><rect x="-10.75" y="-2.99" width="3.93" height="3.81" fill="#fff"/><rect x="-3.77" y="-2.99" width="3.42" height="3.81" fill="#fff"/></g>
<g transform="translate(134.56 674.66) rotate(-90) scale(0.5287 0.5325)"><rect x="110.24" y="-5.80" width="7.64" height="7.40" fill="#fff"/><rect x="123.80" y="-5.80" width="6.64" height="7.40" fill="#fff"/></g>
<g transform="translate(186.29 665.05) rotate(-90) scale(0.5167 0.5325)"><rect x="103.52" y="-5.80" width="7.64" height="7.40" fill="#fff"/><rect x="117.08" y="-5.80" width="6.64" height="7.40" fill="#fff"/></g>
<g transform="translate(238.02 667.65) rotate(-90) scale(0.5175 0.5325)"><rect x="85.80" y="-5.80" width="7.64" height="7.40" fill="#fff"/><rect x="99.36" y="-5.80" width="6.64" height="7.40" fill="#fff"/></g>
<g transform="translate(263.88 668.58) rotate(-90) scale(0.5260 0.5325)"><rect x="85.77" y="-5.80" width="7.64" height="7.40" fill="#fff"/><rect x="99.33" y="-5.80" width="6.64" height="7.40" fill="#fff"/></g>
<g transform="translate(367.34 642.39) rotate(-90) scale(0.5292 0.5325)"><rect x="50.23" y="-5.80" width="7.64" height="7.40" fill="#fff"/><rect x="63.79" y="-5.80" width="6.64" height="7.40" fill="#fff"/></g>
<g transform="translate(393.20 700.21) rotate(-90) scale(0.5380 0.5325)"><rect x="50.24" y="-5.80" width="7.64" height="7.40" fill="#fff"/><rect x="63.80" y="-5.80" width="6.64" height="7.40" fill="#fff"/></g>
<g transform="translate(419.07 700.21) rotate(-90) scale(0.5380 0.5325)"><rect x="50.24" y="-5.80" width="7.64" height="7.40" fill="#fff"/><rect x="63.80" y="-5.80" width="6.64" height="7.40" fill="#fff"/></g>
<g transform="translate(444.93 649.01) rotate(-90) scale(0.5371 0.5325)"><rect x="50.22" y="-5.80" width="7.64" height="7.40" fill="#fff"/><rect x="63.78" y="-5.80" width="6.64" height="7.40" fill="#fff"/></g>
<g transform="translate(470.80 662.97) rotate(-90) scale(0.5237 0.5325)"><rect x="50.22" y="-5.80" width="7.64" height="7.40" fill="#fff"/><rect x="63.78" y="-5.80" width="6.64" height="7.40" fill="#fff"/></g>
<g transform="translate(496.66 667.32) rotate(-90) scale(0.5400 0.5325)"><rect x="50.23" y="-5.80" width="7.64" height="7.40" fill="#fff"/><rect x="63.79" y="-5.80" width="6.64" height="7.40" fill="#fff"/></g>
<g transform="translate(522.52 648.23) rotate(-90) scale(0.5125 0.5325)"><rect x="50.22" y="-5.80" width="7.64" height="7.40" fill="#fff"/><rect x="63.78" y="-5.80" width="6.64" height="7.40" fill="#fff"/></g>
<g transform="translate(81.10 1574.39) scale(1 1.07)"><rect x="-22.83" y="-3.07" width="4.05" height="3.92" fill="#fff"/><rect x="-15.64" y="-3.07" width="3.52" height="3.92" fill="#fff"/></g>
<g transform="translate(81.10 1744.24) scale(1 1.07)"><rect x="-22.83" y="-3.07" width="4.05" height="3.92" fill="#fff"/><rect x="-15.64" y="-3.07" width="3.52" height="3.92" fill="#fff"/></g>
</svg>
</body></html>
